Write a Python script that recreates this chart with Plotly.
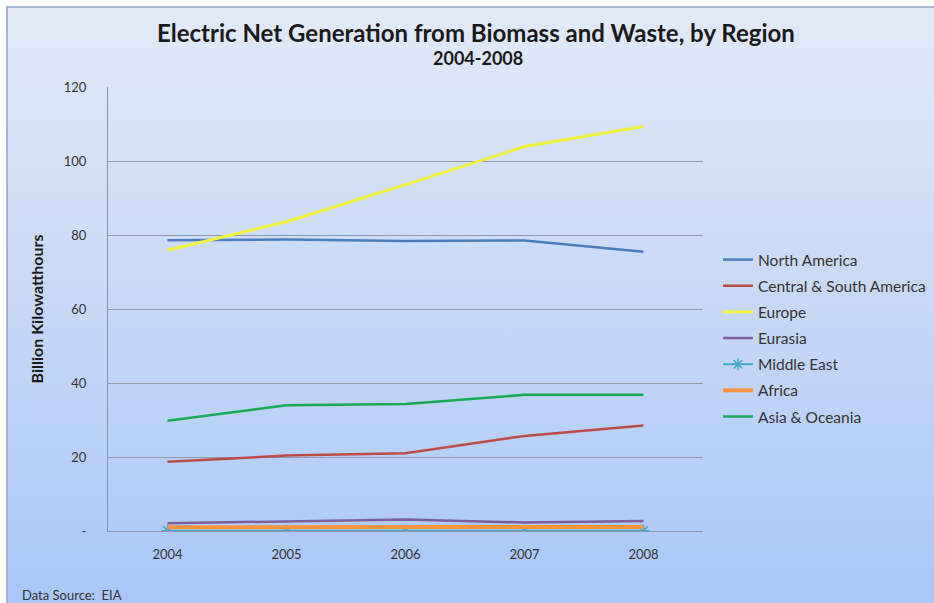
import base64
import plotly.graph_objects as go

years = ["2004", "2005", "2006", "2007", "2008"]
north_america = [78.6, 78.8, 78.4, 78.5, 75.5]
central_south_america = [18.7, 20.4, 21.0, 25.7, 28.5]
europe = [75.9, 83.6, 93.6, 103.9, 109.3]
eurasia = [2.1, 2.7, 3.1, 2.3, 2.7]
middle_east = [0.1, 0.1, 0.1, 0.1, 0.1]
africa = [1.0, 1.0, 1.1, 1.1, 1.1]
asia_oceania = [29.8, 34.0, 34.3, 36.8, 36.8]

y_ticks = [0, 20, 40, 60, 80, 100, 120]
y_tick_labels = ["-", "20", "40", "60", "80", "100", "120"]

FONT = "Lato"
W, H = 934, 603
L, R, T, B = 108, 231, 87, 72

fig = go.Figure()

series = [
    ("North America", north_america, "#4a7ebb", 2.5),
    ("Central & South America", central_south_america, "#be4b48", 2.5),
    ("Europe", europe, "#f2f23c", 3.0),
    ("Eurasia", eurasia, "#7d5fa0", 2.5),
    ("Middle East", middle_east, "#46aac5", 2.0),
    ("Africa", africa, "#f59440", 4.0),
    ("Asia & Oceania", asia_oceania, "#16ab55", 2.5),
]
for i, (name, vals, color, w) in enumerate(series):
    if name == "Middle East":
        kw = dict(mode="lines+markers",
                  marker=dict(symbol="asterisk-open", size=10,
                              line=dict(color=color, width=1.5), color=color))
    else:
        kw = dict(mode="lines")
    fig.add_trace(go.Scatter(x=years, y=vals, name=name,
                             line=dict(color=color, width=w),
                             legendgroup=f"g{i}", **kw))

# background gradient (chart area frame)
svg = ('<svg xmlns="http://www.w3.org/2000/svg" width="934" height="603" preserveAspectRatio="none">'
       '<defs><linearGradient id="g" x1="0" y1="0" x2="0" y2="1">'
       '<stop offset="0" stop-color="#e2eaf8"/>'
       '<stop offset="0.5" stop-color="#c6d8f6"/>'
       '<stop offset="1" stop-color="#a8c6f8"/>'
       '</linearGradient></defs>'
       '<rect x="0" y="0" width="934" height="603" fill="#ffffff"/>'
       '<rect x="7" y="7" width="940" height="610" fill="url(#g)" stroke="#8ea2c6" stroke-width="1.5"/>'
       '</svg>')
src = "data:image/svg+xml;base64," + base64.b64encode(svg.encode()).decode()

pw = W - L - R
ph = H - T - B


def px_x(x):
    return (x - L) / pw


def px_y(y):
    return 1 - (y - T) / ph


fig.add_layout_image(dict(source=src, xref="paper", yref="paper",
                          x=px_x(0), y=px_y(0), sizex=W / pw, sizey=H / ph,
                          xanchor="left", yanchor="top", sizing="stretch",
                          layer="below"))

fig.update_layout(
    width=W, height=H,
    margin=dict(l=L, r=R, t=T, b=B, autoexpand=False),
    paper_bgcolor="#ffffff",
    plot_bgcolor="rgba(0,0,0,0)",
    font=dict(family=FONT, color="#333333"),
    xaxis=dict(type="category", range=[-0.5, 4.5], showgrid=False,
               showline=True, linecolor="#8896ab", linewidth=1,
               ticks="", tickfont=dict(size=13, color="#333333"),
               ticklabelstandoff=11),
    yaxis=dict(range=[0, 120], tickvals=y_ticks, ticktext=y_tick_labels,
               showgrid=True, gridcolor="#8f9bad", gridwidth=1,
               showline=True, linecolor="#8896ab", linewidth=1,
               zeroline=False, ticks="", tickfont=dict(size=13, color="#333333"),
               ticklabelstandoff=18,
               title=dict(text="<b>Billion Kilowatthours</b>", standoff=16,
                          font=dict(size=16, color="#1a1a1a"))),
    legend=dict(x=px_x(718), y=px_y(243),
                xanchor="left", yanchor="top", bgcolor="rgba(0,0,0,0)",
                font=dict(size=15.5, color="#333333"), itemwidth=30,
                traceorder="grouped", tracegroupgap=3),
    showlegend=True,
    annotations=[
        dict(text="<b>Electric Net Generation from Biomass and Waste, by Region</b>",
             xref="paper", yref="paper", x=px_x(476), y=px_y(32),
             xanchor="center", yanchor="middle", showarrow=False,
             font=dict(size=24, color="#1a1a1a", family=FONT)),
        dict(text="<b>2004-2008</b>",
             xref="paper", yref="paper", x=px_x(478), y=px_y(58),
             xanchor="center", yanchor="middle", showarrow=False,
             font=dict(size=18, color="#1a1a1a", family=FONT)),
        dict(text="Data Source:  EIA", xref="paper", yref="paper",
             x=px_x(20), y=px_y(595),
             xanchor="left", yanchor="middle", showarrow=False,
             font=dict(size=13, color="#333333", family=FONT)),
    ],
)

fig.write_html("out.html")
